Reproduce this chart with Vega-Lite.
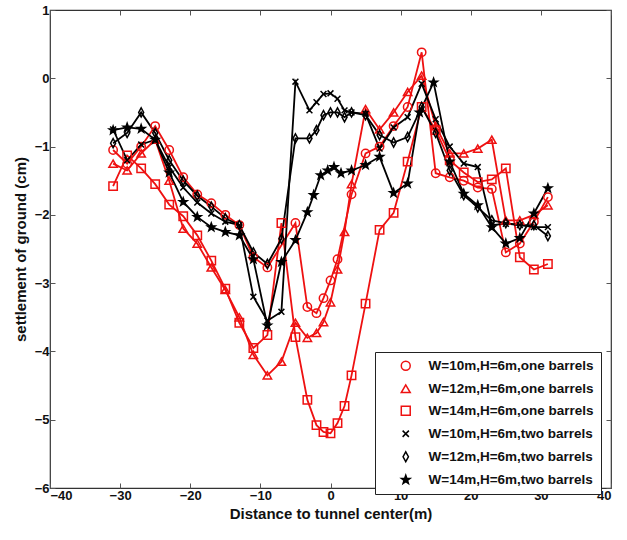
{
  "$schema": "https://vega.github.io/schema/vega-lite/v6.json",
  "width": 561,
  "height": 478,
  "autosize": {"type": "none"},
  "padding": {"left": 50, "top": 10, "right": 16, "bottom": 52},
  "background": "white",
  "config": {
    "view": {"stroke": "#333333", "strokeWidth": 1.2},
    "font": "Liberation Sans",
    "axis": {"labelFont": "Liberation Sans", "labelFontWeight": "bold", "labelFontSize": 13, "labelColor": "#111", "titleFont": "Liberation Sans", "titleFontWeight": "bold", "titleColor": "#111", "grid": false, "domain": false, "tickColor": "#555", "tickSize": -5, "tickWidth": 1},
    "legend": {"orient": "none", "legendX": 325, "legendY": 342, "direction": "vertical",
               "strokeColor": "#222", "fillColor": "white", "padding": 7,
               "labelFont": "Liberation Sans", "labelFontWeight": "bold", "labelFontSize": 13.5, "labelColor": "#111", "labelLimit": 300,
               "symbolSize": 80, "symbolStrokeWidth": 1.5, "rowPadding": 7, "symbolOffset": 17, "labelOffset": 16, "title": null}
  },
  "datasets": {
    "pts": [
      {"s": "W=10m,H=6m,one barrels", "x": -31, "y": -1.05},
      {"s": "W=10m,H=6m,one barrels", "x": -29, "y": -1.25},
      {"s": "W=10m,H=6m,one barrels", "x": -27, "y": -1.0},
      {"s": "W=10m,H=6m,one barrels", "x": -25, "y": -0.7},
      {"s": "W=10m,H=6m,one barrels", "x": -23, "y": -1.05},
      {"s": "W=10m,H=6m,one barrels", "x": -21, "y": -1.45},
      {"s": "W=10m,H=6m,one barrels", "x": -19, "y": -1.7},
      {"s": "W=10m,H=6m,one barrels", "x": -17, "y": -1.83},
      {"s": "W=10m,H=6m,one barrels", "x": -15, "y": -2.0},
      {"s": "W=10m,H=6m,one barrels", "x": -13, "y": -2.15},
      {"s": "W=10m,H=6m,one barrels", "x": -11, "y": -2.62},
      {"s": "W=10m,H=6m,one barrels", "x": -9, "y": -2.77},
      {"s": "W=10m,H=6m,one barrels", "x": -5, "y": -2.12},
      {"s": "W=10m,H=6m,one barrels", "x": -3.3, "y": -3.35},
      {"s": "W=10m,H=6m,one barrels", "x": -2, "y": -3.44},
      {"s": "W=10m,H=6m,one barrels", "x": -1, "y": -3.22},
      {"s": "W=10m,H=6m,one barrels", "x": 0, "y": -2.96},
      {"s": "W=10m,H=6m,one barrels", "x": 1, "y": -2.65},
      {"s": "W=10m,H=6m,one barrels", "x": 3, "y": -1.7},
      {"s": "W=10m,H=6m,one barrels", "x": 5, "y": -1.1},
      {"s": "W=10m,H=6m,one barrels", "x": 7, "y": -1.0},
      {"s": "W=10m,H=6m,one barrels", "x": 9, "y": -0.7},
      {"s": "W=10m,H=6m,one barrels", "x": 11, "y": -0.42},
      {"s": "W=10m,H=6m,one barrels", "x": 13, "y": 0.38},
      {"s": "W=10m,H=6m,one barrels", "x": 15, "y": -1.39},
      {"s": "W=10m,H=6m,one barrels", "x": 17, "y": -1.45},
      {"s": "W=10m,H=6m,one barrels", "x": 19, "y": -1.5},
      {"s": "W=10m,H=6m,one barrels", "x": 21, "y": -1.6},
      {"s": "W=10m,H=6m,one barrels", "x": 23, "y": -1.62},
      {"s": "W=10m,H=6m,one barrels", "x": 25, "y": -2.55},
      {"s": "W=10m,H=6m,one barrels", "x": 27, "y": -2.42},
      {"s": "W=10m,H=6m,one barrels", "x": 29, "y": -2.1},
      {"s": "W=10m,H=6m,one barrels", "x": 31, "y": -1.74},

      {"s": "W=12m,H=6m,one barrels", "x": -31, "y": -1.25},
      {"s": "W=12m,H=6m,one barrels", "x": -29, "y": -1.35},
      {"s": "W=12m,H=6m,one barrels", "x": -27, "y": -1.1},
      {"s": "W=12m,H=6m,one barrels", "x": -25, "y": -0.9},
      {"s": "W=12m,H=6m,one barrels", "x": -23, "y": -1.5},
      {"s": "W=12m,H=6m,one barrels", "x": -21, "y": -2.2},
      {"s": "W=12m,H=6m,one barrels", "x": -19, "y": -2.42},
      {"s": "W=12m,H=6m,one barrels", "x": -17, "y": -2.77},
      {"s": "W=12m,H=6m,one barrels", "x": -15, "y": -3.1},
      {"s": "W=12m,H=6m,one barrels", "x": -13, "y": -3.5},
      {"s": "W=12m,H=6m,one barrels", "x": -11, "y": -4.05},
      {"s": "W=12m,H=6m,one barrels", "x": -9, "y": -4.35},
      {"s": "W=12m,H=6m,one barrels", "x": -7, "y": -4.15},
      {"s": "W=12m,H=6m,one barrels", "x": -5, "y": -3.58},
      {"s": "W=12m,H=6m,one barrels", "x": -3.3, "y": -3.8},
      {"s": "W=12m,H=6m,one barrels", "x": -2, "y": -3.73},
      {"s": "W=12m,H=6m,one barrels", "x": -1, "y": -3.57},
      {"s": "W=12m,H=6m,one barrels", "x": 0, "y": -3.28},
      {"s": "W=12m,H=6m,one barrels", "x": 1, "y": -2.8},
      {"s": "W=12m,H=6m,one barrels", "x": 2, "y": -2.25},
      {"s": "W=12m,H=6m,one barrels", "x": 3, "y": -1.55},
      {"s": "W=12m,H=6m,one barrels", "x": 5, "y": -0.45},
      {"s": "W=12m,H=6m,one barrels", "x": 7, "y": -0.75},
      {"s": "W=12m,H=6m,one barrels", "x": 9, "y": -0.5},
      {"s": "W=12m,H=6m,one barrels", "x": 11, "y": -0.2},
      {"s": "W=12m,H=6m,one barrels", "x": 13, "y": 0.04},
      {"s": "W=12m,H=6m,one barrels", "x": 15, "y": -0.7},
      {"s": "W=12m,H=6m,one barrels", "x": 17, "y": -1.1},
      {"s": "W=12m,H=6m,one barrels", "x": 19, "y": -1.1},
      {"s": "W=12m,H=6m,one barrels", "x": 21, "y": -1.03},
      {"s": "W=12m,H=6m,one barrels", "x": 23, "y": -0.9},
      {"s": "W=12m,H=6m,one barrels", "x": 25, "y": -2.08},
      {"s": "W=12m,H=6m,one barrels", "x": 27, "y": -2.08},
      {"s": "W=12m,H=6m,one barrels", "x": 29, "y": -2.0},
      {"s": "W=12m,H=6m,one barrels", "x": 31, "y": -1.86},

      {"s": "W=14m,H=6m,one barrels", "x": -31, "y": -1.58},
      {"s": "W=14m,H=6m,one barrels", "x": -29, "y": -1.13},
      {"s": "W=14m,H=6m,one barrels", "x": -27, "y": -1.32},
      {"s": "W=14m,H=6m,one barrels", "x": -25, "y": -1.55},
      {"s": "W=14m,H=6m,one barrels", "x": -23, "y": -1.85},
      {"s": "W=14m,H=6m,one barrels", "x": -21, "y": -2.02},
      {"s": "W=14m,H=6m,one barrels", "x": -19, "y": -2.3},
      {"s": "W=14m,H=6m,one barrels", "x": -17, "y": -2.67},
      {"s": "W=14m,H=6m,one barrels", "x": -15, "y": -3.08},
      {"s": "W=14m,H=6m,one barrels", "x": -13, "y": -3.58},
      {"s": "W=14m,H=6m,one barrels", "x": -11, "y": -3.95},
      {"s": "W=14m,H=6m,one barrels", "x": -9, "y": -3.76},
      {"s": "W=14m,H=6m,one barrels", "x": -7, "y": -2.12},
      {"s": "W=14m,H=6m,one barrels", "x": -5, "y": -3.79},
      {"s": "W=14m,H=6m,one barrels", "x": -3.3, "y": -4.71},
      {"s": "W=14m,H=6m,one barrels", "x": -2, "y": -5.08},
      {"s": "W=14m,H=6m,one barrels", "x": -1, "y": -5.18},
      {"s": "W=14m,H=6m,one barrels", "x": 0, "y": -5.2},
      {"s": "W=14m,H=6m,one barrels", "x": 1, "y": -5.05},
      {"s": "W=14m,H=6m,one barrels", "x": 2, "y": -4.8},
      {"s": "W=14m,H=6m,one barrels", "x": 3, "y": -4.35},
      {"s": "W=14m,H=6m,one barrels", "x": 5, "y": -3.3},
      {"s": "W=14m,H=6m,one barrels", "x": 7, "y": -2.22},
      {"s": "W=14m,H=6m,one barrels", "x": 9, "y": -1.97},
      {"s": "W=14m,H=6m,one barrels", "x": 11, "y": -1.22},
      {"s": "W=14m,H=6m,one barrels", "x": 13, "y": -0.42},
      {"s": "W=14m,H=6m,one barrels", "x": 15, "y": -0.76},
      {"s": "W=14m,H=6m,one barrels", "x": 17, "y": -1.2},
      {"s": "W=14m,H=6m,one barrels", "x": 19, "y": -1.38},
      {"s": "W=14m,H=6m,one barrels", "x": 21, "y": -1.52},
      {"s": "W=14m,H=6m,one barrels", "x": 23, "y": -1.48},
      {"s": "W=14m,H=6m,one barrels", "x": 25, "y": -1.32},
      {"s": "W=14m,H=6m,one barrels", "x": 27, "y": -2.62},
      {"s": "W=14m,H=6m,one barrels", "x": 29, "y": -2.8},
      {"s": "W=14m,H=6m,one barrels", "x": 31, "y": -2.72},

      {"s": "W=10m,H=6m,two barrels", "x": -31, "y": -0.75},
      {"s": "W=10m,H=6m,two barrels", "x": -29, "y": -1.2},
      {"s": "W=10m,H=6m,two barrels", "x": -27, "y": -0.97},
      {"s": "W=10m,H=6m,two barrels", "x": -25, "y": -0.9},
      {"s": "W=10m,H=6m,two barrels", "x": -23, "y": -1.3},
      {"s": "W=10m,H=6m,two barrels", "x": -21, "y": -1.6},
      {"s": "W=10m,H=6m,two barrels", "x": -19, "y": -1.82},
      {"s": "W=10m,H=6m,two barrels", "x": -17, "y": -1.98},
      {"s": "W=10m,H=6m,two barrels", "x": -15, "y": -2.1},
      {"s": "W=10m,H=6m,two barrels", "x": -13, "y": -2.15},
      {"s": "W=10m,H=6m,two barrels", "x": -11, "y": -3.2},
      {"s": "W=10m,H=6m,two barrels", "x": -9, "y": -3.55},
      {"s": "W=10m,H=6m,two barrels", "x": -7, "y": -3.42},
      {"s": "W=10m,H=6m,two barrels", "x": -5, "y": -0.05},
      {"s": "W=10m,H=6m,two barrels", "x": -3, "y": -0.47},
      {"s": "W=10m,H=6m,two barrels", "x": -2, "y": -0.35},
      {"s": "W=10m,H=6m,two barrels", "x": -1, "y": -0.23},
      {"s": "W=10m,H=6m,two barrels", "x": 0, "y": -0.22},
      {"s": "W=10m,H=6m,two barrels", "x": 1, "y": -0.3},
      {"s": "W=10m,H=6m,two barrels", "x": 2, "y": -0.47},
      {"s": "W=10m,H=6m,two barrels", "x": 3, "y": -0.5},
      {"s": "W=10m,H=6m,two barrels", "x": 5, "y": -0.52},
      {"s": "W=10m,H=6m,two barrels", "x": 7, "y": -1.03},
      {"s": "W=10m,H=6m,two barrels", "x": 9, "y": -0.72},
      {"s": "W=10m,H=6m,two barrels", "x": 11, "y": -0.57},
      {"s": "W=10m,H=6m,two barrels", "x": 13, "y": -0.08},
      {"s": "W=10m,H=6m,two barrels", "x": 15, "y": -0.6},
      {"s": "W=10m,H=6m,two barrels", "x": 17, "y": -1.0},
      {"s": "W=10m,H=6m,two barrels", "x": 19, "y": -1.25},
      {"s": "W=10m,H=6m,two barrels", "x": 21, "y": -1.3},
      {"s": "W=10m,H=6m,two barrels", "x": 23, "y": -2.15},
      {"s": "W=10m,H=6m,two barrels", "x": 25, "y": -2.13},
      {"s": "W=10m,H=6m,two barrels", "x": 27, "y": -2.15},
      {"s": "W=10m,H=6m,two barrels", "x": 29, "y": -2.18},
      {"s": "W=10m,H=6m,two barrels", "x": 31, "y": -2.18},

      {"s": "W=12m,H=6m,two barrels", "x": -31, "y": -0.95},
      {"s": "W=12m,H=6m,two barrels", "x": -29, "y": -0.8},
      {"s": "W=12m,H=6m,two barrels", "x": -27, "y": -0.5},
      {"s": "W=12m,H=6m,two barrels", "x": -25, "y": -0.8},
      {"s": "W=12m,H=6m,two barrels", "x": -23, "y": -1.2},
      {"s": "W=12m,H=6m,two barrels", "x": -21, "y": -1.5},
      {"s": "W=12m,H=6m,two barrels", "x": -19, "y": -1.72},
      {"s": "W=12m,H=6m,two barrels", "x": -17, "y": -1.88},
      {"s": "W=12m,H=6m,two barrels", "x": -15, "y": -2.05},
      {"s": "W=12m,H=6m,two barrels", "x": -13, "y": -2.15},
      {"s": "W=12m,H=6m,two barrels", "x": -11, "y": -2.55},
      {"s": "W=12m,H=6m,two barrels", "x": -9, "y": -2.72},
      {"s": "W=12m,H=6m,two barrels", "x": -7, "y": -2.35},
      {"s": "W=12m,H=6m,two barrels", "x": -5, "y": -0.88},
      {"s": "W=12m,H=6m,two barrels", "x": -3, "y": -0.88},
      {"s": "W=12m,H=6m,two barrels", "x": -2, "y": -0.76},
      {"s": "W=12m,H=6m,two barrels", "x": -1, "y": -0.54},
      {"s": "W=12m,H=6m,two barrels", "x": 0, "y": -0.5},
      {"s": "W=12m,H=6m,two barrels", "x": 1, "y": -0.5},
      {"s": "W=12m,H=6m,two barrels", "x": 2, "y": -0.57},
      {"s": "W=12m,H=6m,two barrels", "x": 3, "y": -0.5},
      {"s": "W=12m,H=6m,two barrels", "x": 5, "y": -0.54},
      {"s": "W=12m,H=6m,two barrels", "x": 7, "y": -0.83},
      {"s": "W=12m,H=6m,two barrels", "x": 9, "y": -0.94},
      {"s": "W=12m,H=6m,two barrels", "x": 11, "y": -0.86},
      {"s": "W=12m,H=6m,two barrels", "x": 13, "y": -0.42},
      {"s": "W=12m,H=6m,two barrels", "x": 15, "y": -0.8},
      {"s": "W=12m,H=6m,two barrels", "x": 17, "y": -1.35},
      {"s": "W=12m,H=6m,two barrels", "x": 19, "y": -1.71},
      {"s": "W=12m,H=6m,two barrels", "x": 21, "y": -1.89},
      {"s": "W=12m,H=6m,two barrels", "x": 23, "y": -2.08},
      {"s": "W=12m,H=6m,two barrels", "x": 25, "y": -2.12},
      {"s": "W=12m,H=6m,two barrels", "x": 27, "y": -2.15},
      {"s": "W=12m,H=6m,two barrels", "x": 29, "y": -2.15},
      {"s": "W=12m,H=6m,two barrels", "x": 31, "y": -2.31},

      {"s": "W=14m,H=6m,two barrels", "x": -31, "y": -0.76},
      {"s": "W=14m,H=6m,two barrels", "x": -29, "y": -0.72},
      {"s": "W=14m,H=6m,two barrels", "x": -27, "y": -0.74},
      {"s": "W=14m,H=6m,two barrels", "x": -25, "y": -0.9},
      {"s": "W=14m,H=6m,two barrels", "x": -23, "y": -1.38},
      {"s": "W=14m,H=6m,two barrels", "x": -21, "y": -1.81},
      {"s": "W=14m,H=6m,two barrels", "x": -19, "y": -2.03},
      {"s": "W=14m,H=6m,two barrels", "x": -17, "y": -2.18},
      {"s": "W=14m,H=6m,two barrels", "x": -15, "y": -2.25},
      {"s": "W=14m,H=6m,two barrels", "x": -13, "y": -2.3},
      {"s": "W=14m,H=6m,two barrels", "x": -11, "y": -2.65},
      {"s": "W=14m,H=6m,two barrels", "x": -9, "y": -3.62},
      {"s": "W=14m,H=6m,two barrels", "x": -7, "y": -2.69},
      {"s": "W=14m,H=6m,two barrels", "x": -5, "y": -2.37},
      {"s": "W=14m,H=6m,two barrels", "x": -3.3, "y": -1.96},
      {"s": "W=14m,H=6m,two barrels", "x": -2.4, "y": -1.71},
      {"s": "W=14m,H=6m,two barrels", "x": -1.4, "y": -1.42},
      {"s": "W=14m,H=6m,two barrels", "x": -0.4, "y": -1.35},
      {"s": "W=14m,H=6m,two barrels", "x": 0.5, "y": -1.3},
      {"s": "W=14m,H=6m,two barrels", "x": 1.5, "y": -1.39},
      {"s": "W=14m,H=6m,two barrels", "x": 3, "y": -1.35},
      {"s": "W=14m,H=6m,two barrels", "x": 5, "y": -1.27},
      {"s": "W=14m,H=6m,two barrels", "x": 7, "y": -1.15},
      {"s": "W=14m,H=6m,two barrels", "x": 9, "y": -1.68},
      {"s": "W=14m,H=6m,two barrels", "x": 11, "y": -1.54},
      {"s": "W=14m,H=6m,two barrels", "x": 12.7, "y": -0.5},
      {"s": "W=14m,H=6m,two barrels", "x": 14.7, "y": -0.06},
      {"s": "W=14m,H=6m,two barrels", "x": 17, "y": -1.22},
      {"s": "W=14m,H=6m,two barrels", "x": 19, "y": -1.69},
      {"s": "W=14m,H=6m,two barrels", "x": 21, "y": -1.86},
      {"s": "W=14m,H=6m,two barrels", "x": 23, "y": -2.18},
      {"s": "W=14m,H=6m,two barrels", "x": 25, "y": -2.42},
      {"s": "W=14m,H=6m,two barrels", "x": 27, "y": -2.34},
      {"s": "W=14m,H=6m,two barrels", "x": 29, "y": -1.98},
      {"s": "W=14m,H=6m,two barrels", "x": 31, "y": -1.61}
    ]
  },
  "data": {"name": "pts"},
  "layer": [
    {
      "mark": {"type": "line", "strokeWidth": 1.8},
      "encoding": {
        "x": {"field": "x", "type": "quantitative", "scale": {"domain": [-40, 40], "nice": false, "zero": false},
              "axis": {"values": [-40, -30, -20, -10, 0, 10, 20, 30, 40], "title": "Distance to tunnel center(m)", "titleFontSize": 15, "titlePadding": 4, "labelPadding": 6}},
        "y": {"field": "y", "type": "quantitative", "scale": {"domain": [-6, 1], "nice": false, "zero": false},
              "axis": {"values": [-6, -5, -4, -3, -2, -1, 0, 1], "title": "settlement of ground (cm)", "titleFontSize": 15, "titlePadding": 6, "labelPadding": 6}},
        "order": {"field": "x", "type": "quantitative"},
        "stroke": {"field": "s", "type": "nominal", "title": null,
                   "scale": {"domain": ["W=10m,H=6m,one barrels", "W=12m,H=6m,one barrels", "W=14m,H=6m,one barrels", "W=10m,H=6m,two barrels", "W=12m,H=6m,two barrels", "W=14m,H=6m,two barrels"],
                             "range": ["#ee1111", "#ee1111", "#ee1111", "#000000", "#000000", "#000000"]}}
      }
    },
    {
      "mark": {"type": "point", "size": 70, "strokeWidth": 1.5, "opacity": 1},
      "encoding": {
        "x": {"field": "x", "type": "quantitative", "scale": {"domain": [-40, 40], "nice": false, "zero": false},
              "axis": {"orient": "top", "values": [-40, -30, -20, -10, 0, 10, 20, 30, 40], "labels": false, "title": null}},
        "y": {"field": "y", "type": "quantitative", "scale": {"domain": [-6, 1], "nice": false, "zero": false},
              "axis": {"orient": "right", "values": [-6, -5, -4, -3, -2, -1, 0, 1], "labels": false, "title": null}},
        "stroke": {"field": "s", "type": "nominal", "title": null},
        "fill": {"field": "s", "type": "nominal", "title": null,
                 "scale": {"domain": ["W=10m,H=6m,one barrels", "W=12m,H=6m,one barrels", "W=14m,H=6m,one barrels", "W=10m,H=6m,two barrels", "W=12m,H=6m,two barrels", "W=14m,H=6m,two barrels"],
                           "range": ["transparent", "transparent", "transparent", "transparent", "transparent", "#000000"]}},
        "shape": {"field": "s", "type": "nominal", "title": null,
                  "scale": {"domain": ["W=10m,H=6m,one barrels", "W=12m,H=6m,one barrels", "W=14m,H=6m,one barrels", "W=10m,H=6m,two barrels", "W=12m,H=6m,two barrels", "W=14m,H=6m,two barrels"],
                            "range": ["circle", "triangle-up", "square", "M-0.7,-0.7L0.7,0.7M0.7,-0.7L-0.7,0.7", "M0,-1.1L0.6,0L0,1.1L-0.6,0Z", "M0,-1L0.235,-0.324L0.951,-0.309L0.38,0.124L0.588,0.809L0,0.4L-0.588,0.809L-0.38,0.124L-0.951,-0.309L-0.235,-0.324Z"]}}
      }
    }
  ],
  "resolve": {"axis": {"x": "independent", "y": "independent"}}
}
